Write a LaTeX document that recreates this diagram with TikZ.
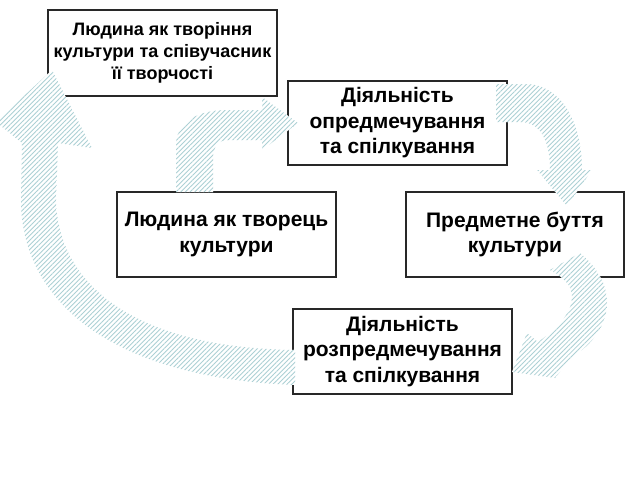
\documentclass[tikz,border=0pt]{standalone}
\usepackage{fontspec}
\setmainfont{Liberation Sans}
\usetikzlibrary{patterns.meta,shadows}
\definecolor{hatch}{RGB}{172,208,212}
\definecolor{boxline}{RGB}{40,40,40}
\begin{document}
\begin{tikzpicture}[x=1pt,y=-1pt,
  box/.style={draw=boxline,line width=1.1pt,fill=white,rectangle,inner sep=0pt,align=center,
    font=\bfseries\fontsize{21}{25.5}\selectfont,
    drop shadow={shadow xshift=1.3pt,shadow yshift=-1.3pt,fill=black!45,opacity=0.7}},
  smalltext/.style={font=\bfseries\fontsize{18}{21.8}\selectfont},
  blockarrow/.style={preaction={fill=white},pattern={Lines[angle=45,distance=3.3pt,line width=0.85pt]},pattern color=hatch}]
\useasboundingbox (0,0) rectangle (640,480);
\fill[white] (0,0) rectangle (640,480);

\node[box,smalltext,minimum width=229pt,minimum height=86pt] (b1) at (162.5,53) {Людина як творіння\\культури та співучасник\\її творчості};
\node[box,minimum width=219pt,minimum height=84pt] (b2) at (397.5,123) {Діяльність\\опредмечування\\та спілкування};
\node[box,minimum width=219pt,minimum height=85pt] (b3) at (226.5,234.5) {Людина як творець\\культури};
\node[box,minimum width=218pt,minimum height=85pt] (b4) at (515,234.5) {Предметне буття\\культури};
\node[box,minimum width=219pt,minimum height=85pt] (b5) at (402.5,351.5) {Діяльність\\розпредмечування\\та спілкування};

% arrow from b3 to b2
\path[blockarrow] (176,192) -- (176,145) .. controls (176,122) and (198,110) .. (227,110)
  -- (262,110) -- (262,97) -- (298,123) -- (262,150) -- (262,140) -- (228,140)
  .. controls (219,140) and (213,146) .. (213,158) -- (213,192) -- cycle;

% arrow from b2 to b4
\path[blockarrow] (496,84) -- (525,84) .. controls (560,84) and (582,120) .. (582,170)
  -- (592,170) -- (567,206) -- (537,170) -- (550,170)
  .. controls (550,140) and (540,122) .. (520,122) -- (496,122) -- cycle;

% arrow from b4 to b5
\path[blockarrow] (550,270) -- (580,253) .. controls (598,268) and (607,285) .. (607,303)
  .. controls (607,325) and (592,345) .. (572,357)
  -- (555,378) -- (512,372) -- (527,333) -- (538,342)
  .. controls (560,327) and (572,311) .. (572,297)
  .. controls (572,285) and (563,277) .. (550,270) -- cycle;

% arrow from b5 to b1
\path[blockarrow] (295,385) .. controls (110,378) and (21,300) .. (21,200) -- (22,143)
  -- (-4,122) -- (52,70) -- (92,148) -- (58,143) -- (56,200)
  .. controls (58,285) and (135,348) .. (295,350) -- cycle;
\end{tikzpicture}
\end{document}
